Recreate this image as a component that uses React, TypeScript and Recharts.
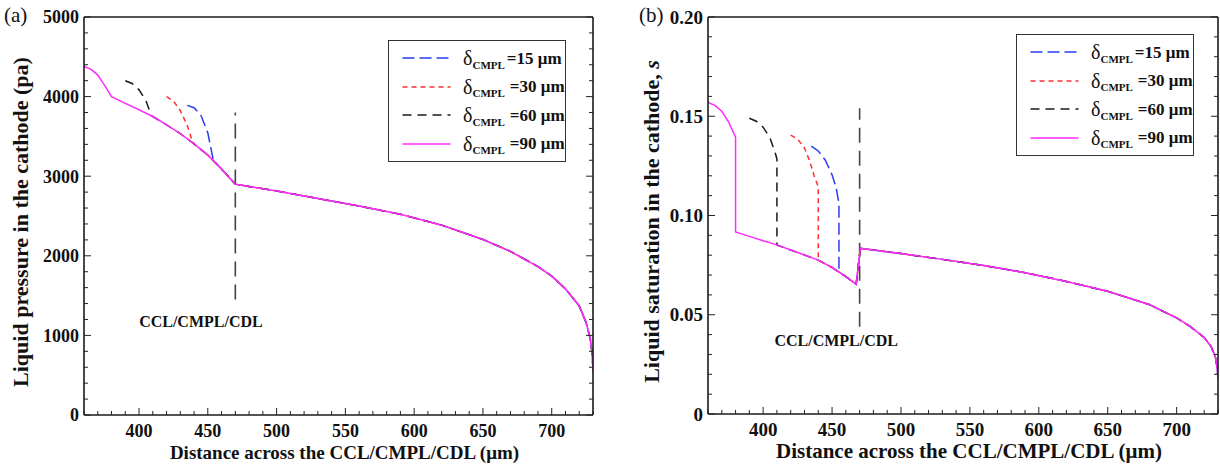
import React from 'react';
import { LineChart, Line, XAxis, YAxis, ReferenceLine, ReferenceDot, Legend } from 'recharts';

const FONT = '"Liberation Serif", "Times New Roman", Times, serif';

// axis ticks
const xMajor = [400, 450, 500, 550, 600, 650, 700];
const pMajor = [0, 1000, 2000, 3000, 4000, 5000];
const sMajor = [0, 0.05, 0.1, 0.15, 0.2];
const sLabels = ['0', '0.05', '0.10', '0.15', '0.20'];

// panel (a) - liquid pressure (pa), delta_CMPL = 90 is the base curve
const aMainX = [360, 365, 370, 375, 380, 390, 400, 410, 420, 430, 440, 450, 460];
const aMainY = [4380, 4345, 4270, 4140, 4000, 3915, 3835, 3750, 3645, 3535, 3405, 3265, 3090];
const aTailX = [470, 480, 500, 530, 560, 590, 620, 650, 670, 690, 700, 710, 720, 725, 728, 729.5, 730];
const aTailY = [2900, 2870, 2815, 2720, 2625, 2522, 2385, 2205, 2055, 1865, 1745, 1585, 1370, 1160, 960, 750, 550];
const a15X = [435, 440, 445, 450, 454];
const a15Y = [3890, 3860, 3765, 3545, 3200];
const a30X = [420, 425, 430, 435, 438];
const a30Y = [4000, 3945, 3825, 3640, 3480];
const a60X = [390, 395, 400, 405, 409];
const a60Y = [4200, 4165, 4085, 3950, 3760];

// panel (b) - liquid saturation
const bMainX = [360, 365, 370, 375, 380, 380, 390, 400, 410, 420, 430, 440, 450, 460, 467.5];
const bMainY = [0.157, 0.1555, 0.1525, 0.147, 0.1395, 0.0917, 0.0895, 0.0873, 0.0852, 0.0826, 0.0801, 0.0775, 0.0738, 0.0692, 0.0654];
const bTailX = [470.5, 480, 500, 530, 560, 590, 620, 650, 680, 700, 710, 720, 725, 728, 729.5, 730];
const bTailY = [0.0835, 0.0826, 0.0808, 0.0779, 0.0748, 0.0712, 0.0668, 0.0618, 0.0552, 0.0484, 0.044, 0.0385, 0.034, 0.029, 0.023, 0.0175];
const b15X = [435, 440, 445, 450, 453, 455, 455];
const b15Y = [0.135, 0.1325, 0.128, 0.1205, 0.114, 0.106, 0.0716];
const b30X = [420, 425, 430, 434, 437, 440, 440];
const b30Y = [0.1405, 0.1385, 0.134, 0.127, 0.12, 0.1145, 0.0775];
const b60X = [390, 395, 400, 405, 409, 410, 410];
const b60Y = [0.149, 0.1475, 0.1445, 0.139, 0.131, 0.1285, 0.0852];

const seriesStyle = [
  { label: '15', color: '#2b3cf5', dash: '12 5' },
  { label: '30', color: '#ff2d2d', dash: '5 4' },
  { label: '60', color: '#1a1a1a', dash: '9 6' },
  { label: '90', color: '#ff2cff', dash: undefined },
];

// head of a curve, then the shared 90 um curve after it, then the common tail
const build = (hx: number[], hy: number[], mx: number[], my: number[], tx: number[], ty: number[]) => {
  const last = hx.length ? hx[hx.length - 1] : -Infinity;
  const pts = hx.map((x, i) => ({ x, y: hy[i] }));
  mx.forEach((x, i) => { if (x > last) pts.push({ x, y: my[i] }); });
  tx.forEach((x, i) => pts.push({ x, y: ty[i] }));
  return pts;
};

const range = (a: number, b: number, step: number, div = 1) => {
  const out: number[] = [];
  for (let v = a; v <= b; v += step) out.push(v / div);
  return out;
};

const xTicks = range(360, 730, 10);
const pTicks = range(0, 5000, 200);
const sTicks = range(0, 20, 1, 100);

const aData = [
  build(a15X, a15Y, aMainX, aMainY, aTailX, aTailY),
  build(a30X, a30Y, aMainX, aMainY, aTailX, aTailY),
  build(a60X, a60Y, aMainX, aMainY, aTailX, aTailY),
  build([], [], aMainX, aMainY, aTailX, aTailY),
];
const bData = [
  build(b15X, b15Y, bMainX, bMainY, bTailX, bTailY),
  build(b30X, b30Y, bMainX, bMainY, bTailX, bTailY),
  build(b60X, b60Y, bMainX, bMainY, bTailX, bTailY),
  build([], [], bMainX, bMainY, bTailX, bTailY),
];

const tickColor = '#222';

const makeTick = (side: string, majors: number[], fontSize: number, fmt?: (v: number) => string) => (p: any) => {
  const v = p.payload.value;
  const major = majors.includes(v);
  const len = major ? 7 : 4;
  const { x, y } = p;
  let line;
  if (side === 'bottom') line = <line x1={x} x2={x} y1={y} y2={y - len} stroke={tickColor} />;
  else if (side === 'top') line = <line x1={x} x2={x} y1={y} y2={y + len} stroke={tickColor} />;
  else if (side === 'left') line = <line x1={x} x2={x + len} y1={y} y2={y} stroke={tickColor} />;
  else line = <line x1={x} x2={x - len} y1={y} y2={y} stroke={tickColor} />;
  let text = null;
  if (major && side === 'bottom') {
    text = <text x={x} y={y + 22} textAnchor="middle" fontSize={fontSize} fontWeight="bold" fontFamily={FONT} fill="#111">{fmt ? fmt(v) : v}</text>;
  }
  if (major && side === 'left') {
    text = <text x={x - 5} y={y} dy="0.35em" textAnchor="end" fontSize={fontSize} fontWeight="bold" fontFamily={FONT} fill="#111">{fmt ? fmt(v) : v}</text>;
  }
  return <g>{line}{text}</g>;
};

function LegendBox() {
  return (
    <div style={{ width: 176, border: '1.5px solid #333', background: '#fff', padding: '3px 0', fontFamily: FONT, color: '#111' }}>
      {seriesStyle.map((s) => (
        <div key={s.label} style={{ display: 'flex', alignItems: 'center', height: 28.5 }}>
          <svg width={64} height={10}>
            <line x1={13.5} x2={61.5} y1={5} y2={5} stroke={s.color} strokeWidth={1.6} strokeDasharray={s.dash} />
          </svg>
          <span style={{ fontSize: 20, marginLeft: 10, lineHeight: 1 }}>δ</span>
          <span style={{ fontSize: 11, fontWeight: 'bold', position: 'relative', top: 7, lineHeight: 1 }}>CMPL</span>
          <span style={{ fontSize: 17, fontWeight: 'bold', marginLeft: s.label === '15' ? 2 : 5, lineHeight: 1 }}>={s.label} μm</span>
        </div>
      ))}
    </div>
  );
}

type PanelProps = {
  width: number;
  margin: { top: number; right: number; bottom: number; left: number };
  data: { x: number; y: number }[][];
  yDomain: [number, number];
  yTicks: number[];
  yMajor: number[];
  yFmt?: (v: number) => string;
  fontSize: number;
  xTitleSize: number;
  yTitleSize: number;
  yTitle: React.ReactNode;
  yTitleOffset: number;
  refSeg: { x: number; y: number }[];
  refLabel: { x: number; y: number };
  legend: { left: number; top: number };
};

function Panel(props: PanelProps) {
  const { width, margin, data, yDomain, yTicks, yMajor, yFmt, fontSize, xTitleSize, yTitleSize, yTitle, yTitleOffset, refSeg, refLabel, legend } = props;
  const axisLine = { stroke: '#1a1a1a', strokeWidth: 1.6 };
  return (
    <LineChart width={width} height={466} margin={margin}>
      <XAxis xAxisId="bottom" type="number" dataKey="x" domain={[360, 730]} ticks={xTicks} interval={0}
        allowDataOverflow height={1} tickSize={0} tickMargin={0} axisLine={axisLine} tickLine={false}
        tick={makeTick('bottom', xMajor, fontSize)}
        label={(p: any) => {
          const vb = p.viewBox;
          return (
            <text x={vb.x + vb.width / 2 + 6} y={vb.y + 44} textAnchor="middle" fontSize={xTitleSize} fontWeight="bold" fontFamily={FONT} fill="#111">
              Distance across the CCL/CMPL/CDL (μm)
            </text>
          );
        }} />
      <XAxis xAxisId="top" orientation="top" type="number" domain={[360, 730]} ticks={xTicks} interval={0}
        allowDataOverflow height={1} tickSize={0} tickMargin={0} axisLine={axisLine} tickLine={false}
        tick={makeTick('top', xMajor, fontSize)} />
      <YAxis yAxisId="left" type="number" domain={yDomain} ticks={yTicks} interval={0} allowDataOverflow
        width={1} tickSize={0} tickMargin={0} axisLine={axisLine} tickLine={false}
        tick={makeTick('left', yMajor, fontSize, yFmt)}
        label={(p: any) => {
          const vb = p.viewBox;
          const cx = vb.x + vb.width - yTitleOffset;
          const cy = vb.y + vb.height / 2 + 6;
          return (
            <text x={cx} y={cy} dy="0.35em" transform={`rotate(-90 ${cx} ${cy})`} textAnchor="middle" fontSize={yTitleSize} fontWeight="bold" fontFamily={FONT} fill="#111">
              {yTitle}
            </text>
          );
        }} />
      <YAxis yAxisId="right" orientation="right" type="number" domain={yDomain} ticks={yTicks} interval={0} allowDataOverflow
        width={1} tickSize={0} tickMargin={0} axisLine={axisLine} tickLine={false}
        tick={makeTick('right', yMajor, fontSize)} />
      <ReferenceLine xAxisId="bottom" yAxisId="left" segment={refSeg} stroke="#444" strokeWidth={1.6} strokeDasharray="15 8" />
      {data.map((d, i) => (
        <Line key={seriesStyle[i].label} xAxisId="bottom" yAxisId="left" data={d} dataKey="y" type="linear"
          stroke={seriesStyle[i].color} strokeWidth={1.5} strokeDasharray={seriesStyle[i].dash}
          dot={false} activeDot={false} isAnimationActive={false} />
      ))}
      <ReferenceDot xAxisId="bottom" yAxisId="left" x={refLabel.x} y={refLabel.y} r={0} fill="none" stroke="none"
        label={(p: any) => (
          <text x={p.viewBox.x} y={p.viewBox.y} dy="0.35em" textAnchor="middle" fontSize={16} fontWeight="bold" fontFamily={FONT} fill="#111">
            CCL/CMPL/CDL
          </text>
        )} />
      <Legend layout="horizontal" verticalAlign="middle" align="center"
        wrapperStyle={{ left: legend.left, top: legend.top, width: 'auto' }}
        content={() => <LegendBox />} />
    </LineChart>
  );
}

export default function App() {
  return (
    <div style={{ position: 'absolute', left: 0, top: 0, width: 1220, height: 466, background: '#fff', fontFamily: FONT }}>
      <div style={{ position: 'absolute', left: 4, top: 3, fontSize: 21, color: '#111' }}>(a)</div>
      <div style={{ position: 'absolute', left: 639, top: 3, fontSize: 21, color: '#111' }}>(b)</div>
      <div style={{ position: 'absolute', left: 0, top: 0 }}>
        <Panel
          width={610}
          margin={{ top: 16, right: 16, bottom: 50, left: 83 }}
          data={aData}
          yDomain={[0, 5000]}
          yTicks={pTicks}
          yMajor={pMajor}
          fontSize={18}
          xTitleSize={19}
          yTitleSize={22}
          yTitle="Liquid pressure in the cathode (pa)"
          yTitleOffset={64}
          refSeg={[{ x: 470, y: 1450 }, { x: 470, y: 3800 }]}
          refLabel={{ x: 445, y: 1180 }}
          legend={{ left: 388, top: 40 }}
        />
      </div>
      <div style={{ position: 'absolute', left: 620, top: 0 }}>
        <Panel
          width={600}
          margin={{ top: 16, right: 1, bottom: 51, left: 87 }}
          data={bData}
          yDomain={[0, 0.2]}
          yTicks={sTicks}
          yMajor={sMajor}
          yFmt={(v) => sLabels[sMajor.indexOf(v)]}
          fontSize={19}
          xTitleSize={21}
          yTitleSize={22}
          yTitle={<>Liquid saturation in the cathode, <tspan fontStyle="italic">s</tspan></>}
          yTitleOffset={57}
          refSeg={[{ x: 470, y: 0.044 }, { x: 470, y: 0.154 }]}
          refLabel={{ x: 453, y: 0.037 }}
          legend={{ left: 396, top: 34 }}
        />
      </div>
    </div>
  );
}
